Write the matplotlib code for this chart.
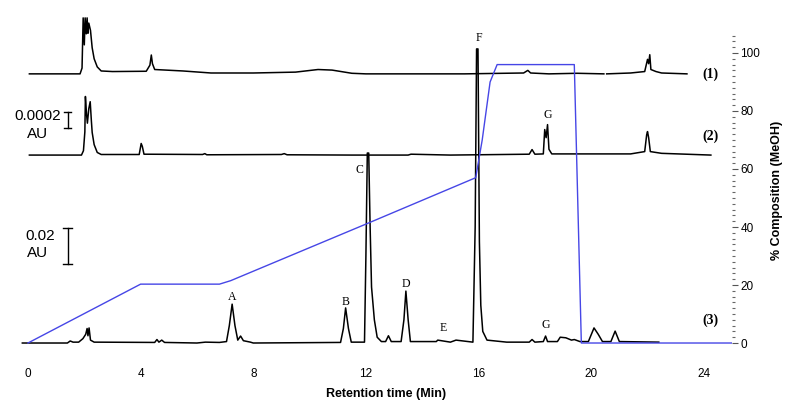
import numpy as np
import matplotlib
matplotlib.use("Agg")
from matplotlib import pyplot as plt
from matplotlib.ticker import MultipleLocator

plt.rcParams['font.family'] = ['Liberation Sans', 'DejaVu Sans']

# chromatogram traces: retention time (min) and signal above each baseline (display units)
t1 = [0.05, 1.85, 1.92, 1.96, 2.0, 2.03, 2.07, 2.1, 2.13, 2.16, 2.22, 2.28, 2.35, 2.46, 2.6,
      3.0, 4.2, 4.33, 4.38, 4.42, 4.5, 5.5, 6.5, 8.0, 9.5, 10.3, 10.8, 11.5, 12.0, 13.0,
      15.5, 17.6, 17.75, 17.85, 18.5, 19.5, 20.45, 20.5, 20.55, 21.4, 21.9, 22.0, 22.04,
      22.08, 22.12, 22.3, 22.5, 23.4]
s1 = [0, 0, 2, 19.3, 10, 19.3, 13.8, 19.3, 14, 17.5, 15, 9, 5.2, 2.4, 1.0,
      0.8, 0.9, 3, 6.5, 3.5, 1.5, 1.0, 0.3, 0.3, 0.6, 1.5, 1.3, 0.2, 0, 0,
      0, 0.3, 1.2, 0.3, 0, 0.2, 0, np.nan, 0, 0.3, 0.8, 5, 3.5,
      6.6, 1.5, 0.8, 0.3, 0]

t2 = [0.05, 1.9, 1.97, 2.02, 2.04, 2.08, 2.11, 2.16, 2.21, 2.25, 2.28, 2.35, 2.46, 2.6,
      3.95, 4.02, 4.06, 4.12, 6.2, 6.28, 6.35, 9.0, 9.1, 9.2, 11.5, 13.5, 13.6, 15.0,
      17.8, 17.9, 18.0, 18.3, 18.35, 18.4, 18.45, 18.5, 18.6, 21.4, 21.9, 21.97, 22.0,
      22.04, 22.1, 22.5, 24.25]
s2 = [0, 0, 1.5, 8, 20.2, 14, 11, 16, 18.4, 12, 7.8, 3.6, 0.9, 0.2,
      0.2, 4.0, 3.0, 0.3, 0.2, 0.5, 0.1, 0.2, 0.5, 0.1, 0.0, 0.0, 0.3, 0,
      0.3, 1.9, 0.3, 0.4, 8.8, 6, 10.5, 2, 0.4, 0.4, 1.2, 7, 8.1,
      6, 1.2, 0.6, 0]

t3 = [-0.2, 1.4, 1.5, 1.6, 1.8, 1.95, 2.05, 2.1, 2.13, 2.17, 2.22, 2.35, 4.5, 4.58, 4.65,
      4.75, 4.85, 6.0, 6.3, 6.8, 7.05, 7.15, 7.25, 7.35, 7.45, 7.55, 7.65, 7.9, 8.0,
      11.1, 11.2, 11.28, 11.38, 11.48, 11.95, 12.0, 12.05, 12.1, 12.15, 12.2, 12.3, 12.4,
      12.55, 12.7, 12.8, 12.9, 13.25, 13.35, 13.42, 13.5, 13.58, 14.5, 14.55, 15.0, 15.2,
      15.8, 15.88, 15.93, 15.98, 16.03, 16.08, 16.15, 16.3, 17.0, 17.8, 17.9, 18.0, 18.3,
      18.38, 18.45, 18.8, 18.9, 19.1, 19.3, 19.4, 19.6, 19.9, 20.1, 20.25, 20.4, 20.7,
      20.85, 21.0, 22.4]
s3 = [0, 0, 0.7, 0.3, 0.3, 1.5, 3, 5, 2.5, 5.2, 1, 0.3, 0.2, 1.2, 0.3,
      1.0, 0.2, 0, 0.3, 0.2, 0.5, 6, 13.4, 6, 1.0, 2.4, 0.8, 0.3, 0,
      0.2, 5, 12.1, 5, 0.3, 0.3, 30, 65.5, 65.5, 40, 19.3, 8, 2,
      0.5, 0.5, 2.5, 0.5, 0.5, 8, 17.9, 8, 0.5, 0.5, 1, 0.3, 1.0,
      0.3, 40, 101.4, 101.4, 35, 13, 4, 1.0, 0.3, 0.3, 1.2, 0.3, 0.5,
      2.4, 0.5, 0.5, 2.0, 1.8, 1.0, 1.2, 0.5, 0.5, 5.2, 3, 0.5, 0.5,
      4.1, 0.5, 0.3]

baselines = [92.8, 64.8, 0.0]
trace_names = ["(1)", "(2)", "(3)"]
trace_label_y = [92.8, 71.4, 7.9]

# gradient program, % MeOH
grad_t = [0, 4.0, 6.8, 7.2, 12.0, 15.9, 16.13, 16.41, 16.66, 19.4, 19.65, 25]
grad_pct = [0, 20.3, 20.3, 21.5, 41, 57, 70, 90, 96, 96, 0, 0]

# peak letters
peak_names = ["A", "B", "C", "D", "E", "F", "G", "G"]
peak_t = [7.24, 11.28, 11.78, 13.43, 14.73, 16.0, 18.38, 18.45]
peak_y = [15.9, 14.1, 59.7, 20.3, 5.2, 105.3, 6.2, 78.6]

# scale bars (display units)
bar_t = 1.41
bar_small = (74.1, 79.7)
bar_big = (27.2, 39.7)

fig = plt.figure(figsize=(8, 4.16), dpi=100)
ymin, ymax = -1.03, 106.2
ax = fig.add_axes([0.0244, 1 - 346 / 416, 0.8906, (346 - 35) / 416])
ax2 = ax.twinx()

for t, s, b in zip([t1, t2, t3], [s1, s2, s3], baselines):
    ax.plot(t, np.array(s) + b, color="black", lw=1.1, clip_on=False)

for name, ty in zip(trace_names, trace_label_y):
    ax.text(24.25, ty, name, family="Liberation Serif", weight="bold", fontsize=10,
            ha="center", va="center")

for name, px, py in zip(peak_names, peak_t, peak_y):
    ax.text(px, py, name, family="Liberation Serif", fontsize=8.5, ha="center", va="center")

# scale bars
for lo, hi, w in [(bar_small[0], bar_small[1], 0.13), (bar_big[0], bar_big[1], 0.17)]:
    ax.plot([bar_t, bar_t], [lo, hi], color="black", lw=1)
    ax.plot([bar_t - w, bar_t + w], [lo, lo], color="black", lw=1)
    ax.plot([bar_t - w, bar_t + w], [hi, hi], color="black", lw=1)
ax.text(0.35, 78.3, "0.0002", fontsize=11, ha="center", va="center")
ax.text(0.33, 72.0, "AU", fontsize=11, ha="center", va="center")
ax.text(0.45, 36.9, "0.02", fontsize=11, ha="center", va="center")
ax.text(0.33, 31.0, "AU", fontsize=11, ha="center", va="center")

ax.set_xlim(-0.3, 25)
ax.set_ylim(ymin, ymax)
ax.set_xticks([0, 4, 8, 12, 16, 20, 24])
ax.tick_params(axis="x", length=0, pad=16, labelsize=8.5)
ax.set_yticks([])
ax.set_xlabel("Retention time (Min)", fontsize=9, weight="bold")
ax.xaxis.set_label_coords(0.514, -0.135)
for sp in ax.spines.values():
    sp.set_visible(False)

ax2.plot(grad_t, grad_pct, color="#4646e6", lw=1.0)
ax2.set_ylim(ymin, ymax)
ax2.set_yticks([0, 20, 40, 60, 80, 100])
ax2.yaxis.set_minor_locator(MultipleLocator(2))
ax2.tick_params(axis="y", which="major", length=4, width=0.8, color="#555555", labelsize=8.5, pad=2)
ax2.tick_params(axis="y", which="minor", length=2, width=0.8, color="#666666")
ax2.set_ylabel("% Composition (MeOH)", fontsize=9, weight="bold")
ax2.yaxis.set_label_coords(1.055, 0.5)
for sp in ax2.spines.values():
    sp.set_visible(False)

fig.savefig("out.png", dpi=100)
